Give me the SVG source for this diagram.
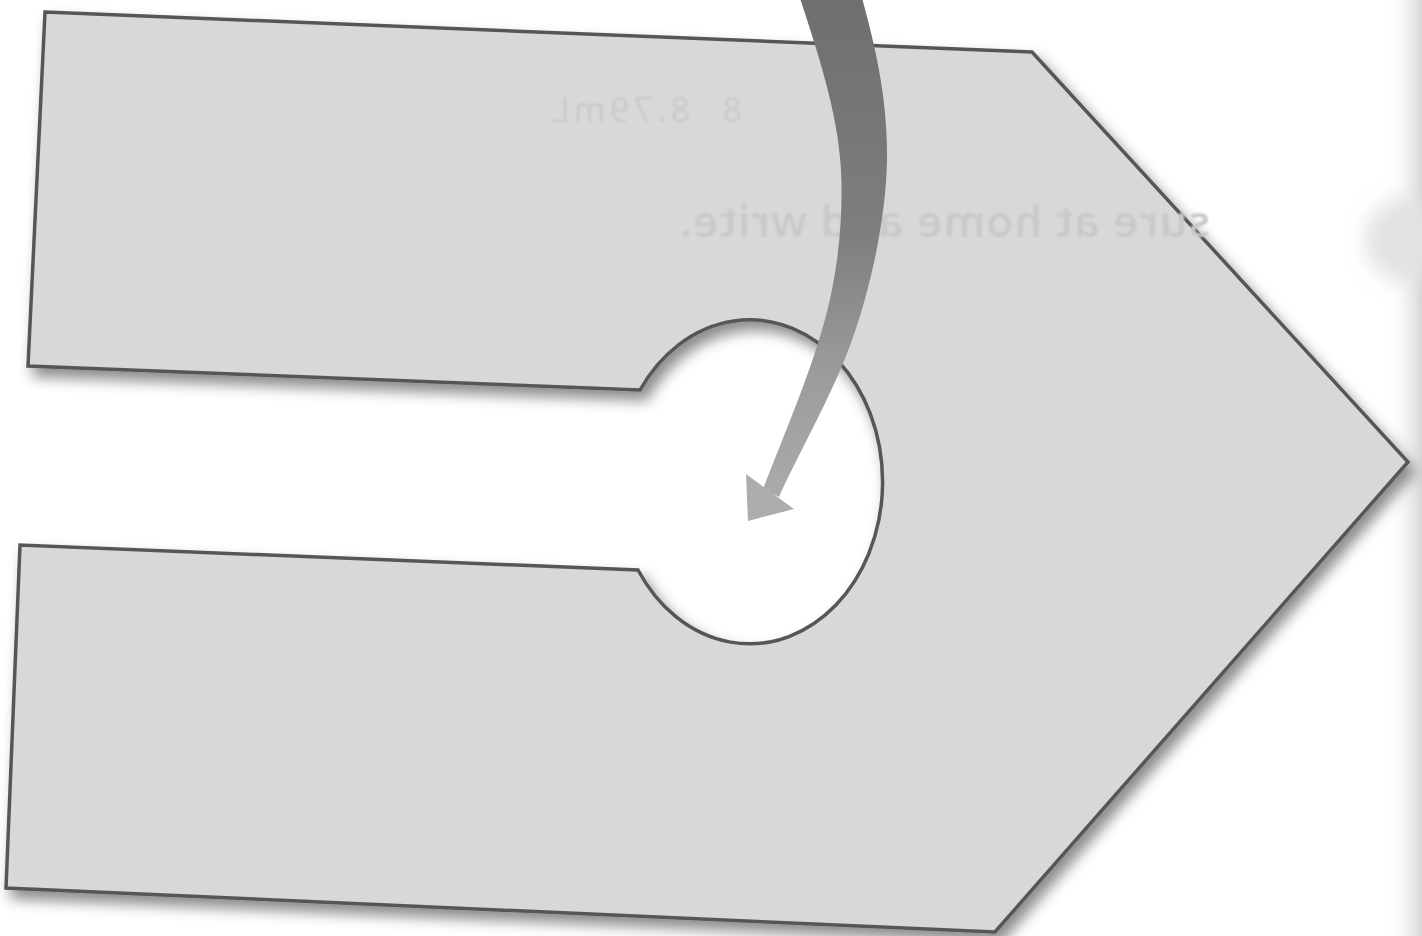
<svg xmlns="http://www.w3.org/2000/svg" width="1422" height="936" viewBox="0 0 1422 936">
  <defs>
    <filter id="shadow" x="-10%" y="-10%" width="125%" height="125%">
      <feDropShadow dx="6" dy="9" stdDeviation="7" flood-color="#000" flood-opacity="0.45"/>
    </filter>
    <filter id="blur" x="-50%" y="-50%" width="200%" height="200%">
      <feGaussianBlur stdDeviation="10"/>
    </filter>
    <filter id="soft" x="-5%" y="-50%" width="110%" height="200%">
      <feGaussianBlur stdDeviation="1.3"/>
    </filter>
    <linearGradient id="arrowGrad" x1="0" y1="0" x2="0" y2="520" gradientUnits="userSpaceOnUse">
      <stop offset="0" stop-color="#6f6f6f"/>
      <stop offset="0.45" stop-color="#7e7e7e"/>
      <stop offset="0.72" stop-color="#9c9c9c"/>
      <stop offset="1" stop-color="#adadad"/>
    </linearGradient>
    <linearGradient id="edgeGrad" x1="1385" y1="0" x2="1422" y2="0" gradientUnits="userSpaceOnUse">
      <stop offset="0" stop-color="#ffffff" stop-opacity="0"/>
      <stop offset="1" stop-color="#d6d6d6"/>
    </linearGradient>
    <style>
      .card { fill: #d8d8d8; stroke: #575757; stroke-width: 3.5; stroke-linejoin: miter; }
      .ghost { fill: #c9c9c9; font-family: "Open Sans", "Liberation Sans", sans-serif; }
    </style>
  </defs>

  <rect x="0" y="0" width="1422" height="936" fill="#ffffff"/>
  <rect x="1385" y="0" width="37" height="936" fill="url(#edgeGrad)"/>
  <ellipse cx="1405" cy="240" rx="40" ry="42" fill="#e2e2e2" filter="url(#blur)"/>

  <g id="shape">
    <path class="card" filter="url(#shadow)" d="M45,12 L1032,52 L1408,462 L995,932 L6,888 L20,545 L638,570 A133,162 0 1 0 640,390 L28,366 Z"/>
    <g transform="scale(-1,1)" filter="url(#soft)">
      <text class="ghost" x="-742" y="122" font-size="34" textLength="20">8</text>
      <text class="ghost" x="-690" y="122" font-size="34" textLength="138">8.79mL</text>
      <text class="ghost" x="-1210" y="237" font-size="44" font-weight="600" textLength="530">sure at home and write.</text>
    </g>
  </g>

  <g id="connectors">
    <path fill="url(#arrowGrad)" d="M800,-2 C815,45 838,110 841,170 C844,230 835,290 819,340 C805,385 790,420 763,489 L779,497 C795,460 835,390 852,340 C870,290 886,220 887,160 C888,100 875,45 862,-2 Z"/>
    <polygon fill="#adadad" points="746,474 794,509 748,521"/>
  </g>
</svg>
